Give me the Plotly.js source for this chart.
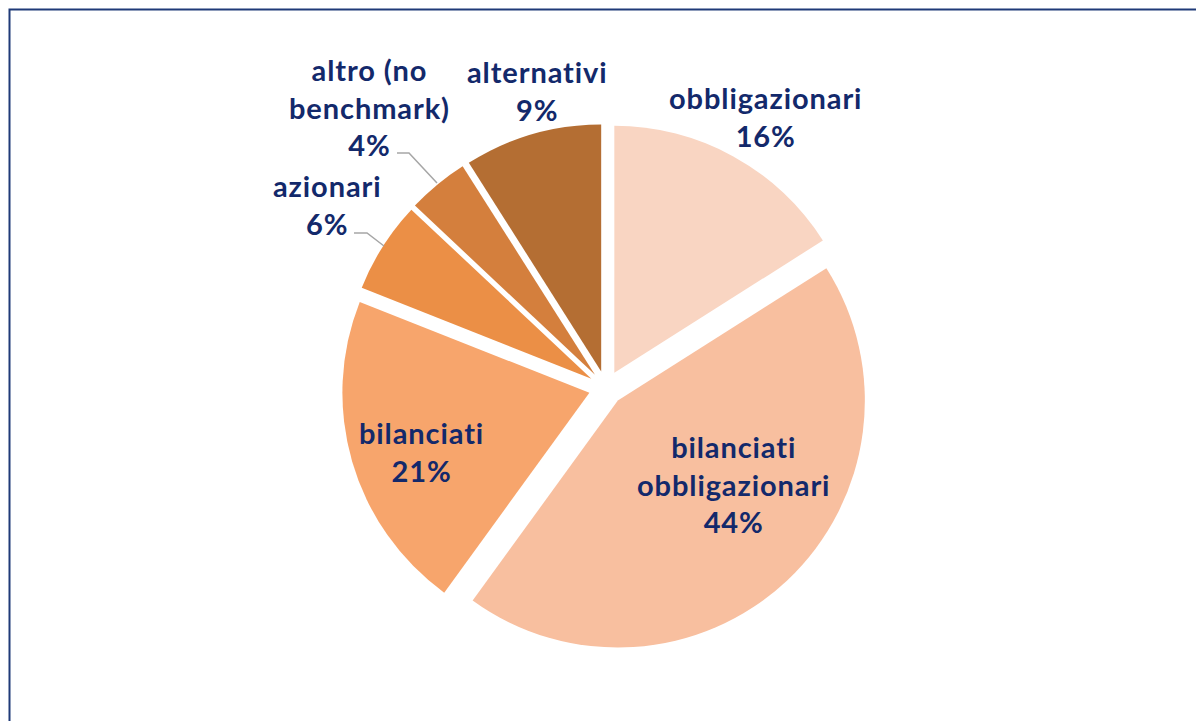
<!DOCTYPE html>
<html>
<head>
<meta charset="utf-8">
<script src="https://cdn.plot.ly/plotly-3.0.1.min.js"></script>
<style>
html,body{margin:0;padding:0;background:#fff;}
#chart{width:1196px;height:721px;}
</style>
</head>
<body>
<div id="chart"></div>
<script>
// Data
const categories = ["obbligazionari", "bilanciati<br>obbligazionari", "bilanciati", "azionari", "altro (no<br>benchmark)", "alternativi"];
const values = [16, 44, 21, 6, 4, 9];
const colors = ["#F9D5C2", "#F8BF9F", "#F7A56C", "#EB8F46", "#D47F3D", "#B46E33"];

// Layout helpers (pixel positions -> paper)
const W = 1196, H = 721;
const px = x => x / W;
const py = y => 1 - y / H;

// label centres (pixels) for each category, same order
const labelPos = [[765, 116], [733, 484], [421, 451], [327, 204], [369, 107], [537, 91]];

const textColor = "#13296B";
const spaced = s => s.split("<br>").map(t => '<span style="letter-spacing:0.9px">' + t + '</span>').join("<br>");
const annotations = categories.map((c, i) => ({
  xref: "paper", yref: "paper",
  x: px(labelPos[i][0]), y: py(labelPos[i][1]),
  xanchor: "center", yanchor: "middle",
  text: spaced(c + "<br>" + values[i] + "%"),
  showarrow: false,
  align: "center",
  font: {family: "Lato, 'Open Sans', sans-serif", size: 29, color: textColor, weight: 700}
}));

const leaderColor = "#A6A6A6";
const shapes = [
  {type: "rect", xref: "paper", yref: "paper", x0: px(9.5), y0: py(9.5), x1: px(1230), y1: py(760),
   line: {color: "#1F3A78", width: 2}, fillcolor: "rgba(0,0,0,0)", layer: "below"},
  // altro leader
  {type: "path", xref: "paper", yref: "paper",
   path: `M ${px(397)},${py(153)} L ${px(409)},${py(153)} L ${px(437)},${py(183)}`,
   line: {color: leaderColor, width: 1.5}},
  // azionari leader
  {type: "path", xref: "paper", yref: "paper",
   path: `M ${px(354)},${py(233)} L ${px(367)},${py(233)} L ${px(384)},${py(246)}`,
   line: {color: leaderColor, width: 1.5}}
];

const cx = 606, cy = 388, r = 247, pull = 0.07;
const half = r * (1 + pull);

const trace = {
  type: "pie",
  labels: categories,
  values: values,
  sort: false,
  direction: "clockwise",
  rotation: 0,
  pull: values.map(() => pull),
  marker: {colors: colors, line: {width: 0}},
  textinfo: "none",
  hoverinfo: "label+percent",
  showlegend: false,
  domain: {x: [px(cx - half), px(cx + half)], y: [py(cy + half), py(cy - half)]}
};

const layout = {
  width: W, height: H,
  margin: {l: 0, r: 0, t: 0, b: 0},
  paper_bgcolor: "#ffffff",
  showlegend: false,
  annotations: annotations,
  shapes: shapes
};

Plotly.newPlot("chart", [trace], layout, {displayModeBar: false, staticPlot: true});
</script>
</body>
</html>
